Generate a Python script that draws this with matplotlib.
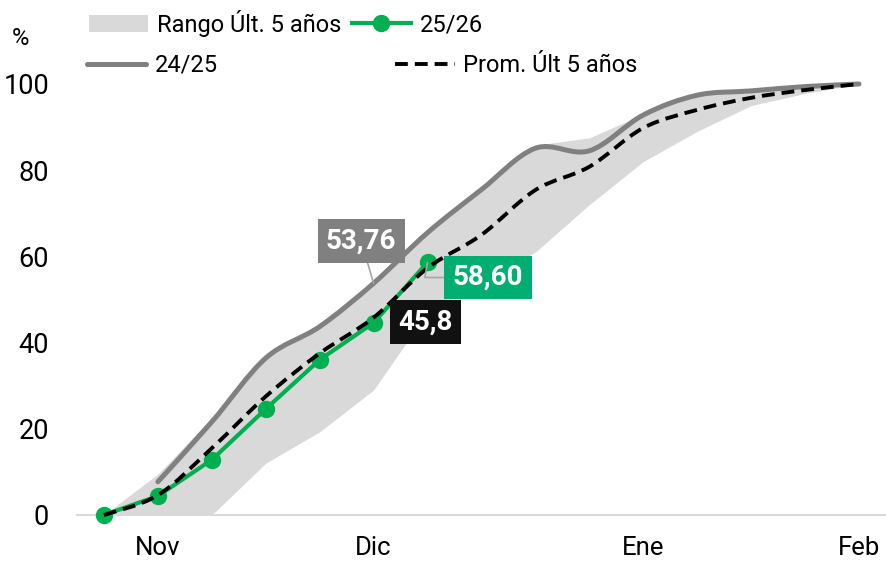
import numpy as np
import matplotlib.pyplot as plt
from matplotlib.path import Path
from matplotlib.patches import PathPatch, Patch
from matplotlib.lines import Line2D

plt.rcParams['font.family'] = ['Roboto', 'DejaVu Sans']

# weekly categories, labels only on some of them
ticks_idx = [1, 5, 10, 14]
ticks_lab = ["Nov", "Dic", "Ene", "Feb"]
weeks = np.arange(15)

rango_low = [0, 0, 0, 12.0, 19.3, 29.0, 47.0, 54.0, 61.0, 72.0, 82.0, 89.0, 95.0, 97.8, 100]
rango_high = [0, 9.5, 22.5, 37.0, 44.5, 54.5, 66.0, 76.0, 85.8, 87.5, 93.0, 97.5, 98.6, 99.5, 100]
s2425 = [np.nan, 7.7, 21.6, 36.4, 43.7, 53.76, 65.5, 75.5, 85.1, 84.5, 92.8, 97.4, 98.4, 99.4, 100]
s2526 = [0, 4.4, 12.8, 24.6, 36.0, 44.6, 58.6]
prom5 = [0, 4.6, 15.5, 27.5, 37.5, 45.8, 57.3, 65.0, 75.4, 80.8, 89.8, 94.0, 96.8, 98.6, 100]

GREEN = "#00B050"
GRAY = "#808080"


def smooth_path(x, y):
    # excel-like smoothed line: bezier segments through the points
    pts = np.column_stack([x, y])
    pts = pts[~np.isnan(pts[:, 1])]
    verts = [pts[0]]
    codes = [Path.MOVETO]
    n = len(pts)
    for i in range(n - 1):
        p0 = pts[max(i - 1, 0)]
        p1 = pts[i]
        p2 = pts[i + 1]
        p3 = pts[min(i + 2, n - 1)]
        c1 = p1 + (p2 - p0) / 6
        c2 = p2 - (p3 - p1) / 6
        verts += [c1, c2, p2]
        codes += [Path.CURVE4] * 3
    return Path(verts, codes)


fig = plt.figure(figsize=(8.86, 5.63), dpi=100)
ax = fig.add_axes([0.0869, 0.0853, 0.913, 0.7655])

ax.fill_between(weeks, rango_low, rango_high, color="#D9D9D9", lw=0, zorder=1)

ax.add_patch(PathPatch(smooth_path(weeks, s2425), fill=False, ec=GRAY, lw=3.6,
                       capstyle='round', zorder=2, clip_on=False))
ax.add_patch(PathPatch(smooth_path(weeks, prom5), fill=False, ec="black", lw=2.8,
                       ls=(0, (3.3, 1.8)), zorder=4, clip_on=False))
ax.plot(weeks[:len(s2526)], s2526, color=GREEN, lw=3, marker='o', ms=11.5, zorder=3,
        clip_on=False)

# data labels
lab_kw = dict(ha='center', va='center', fontsize=20, fontweight='bold', color='white',
              zorder=6)
ax.annotate("53,76", xy=(5, 53.76), xytext=(4.77, 63.6),
            bbox=dict(boxstyle='square,pad=0.3', fc=GRAY, ec='none'),
            arrowprops=dict(arrowstyle='-', color='#A6A6A6', lw=1.2, shrinkA=0, shrinkB=0),
            **lab_kw)
ax.annotate("58,60", xy=(6, 58.6), xytext=(7.12, 55.1),
            bbox=dict(boxstyle='square,pad=0.3', fc="#00AE71", ec='none'),
            arrowprops=dict(arrowstyle='-', color='#A6A6A6', lw=1.2, shrinkA=0, shrinkB=0,
                            connectionstyle='angle,angleA=0,angleB=80,rad=0'),
            **lab_kw)
ax.text(5.96, 44.7, "45,8", bbox=dict(boxstyle='square,pad=0.3', fc="#111111", ec='none'),
        **lab_kw)

ax.set_xlim(-0.5, 14.5)
ax.set_ylim(0, 100)
ax.set_yticks(range(0, 101, 20))
ax.set_xticks(ticks_idx)
ax.set_xticklabels(ticks_lab)
ax.tick_params(axis='both', length=0, labelsize=19.5)
ax.tick_params(axis='x', labelsize=18.5)
ax.tick_params(axis='y', pad=20)
ax.tick_params(axis='x', pad=15)
for s in ['left', 'right', 'top']:
    ax.spines[s].set_visible(False)
ax.spines['bottom'].set_color('#D9D9D9')
ax.spines['bottom'].set_linewidth(1.5)
ax.spines['bottom'].set_zorder(0)

fig.text(0.0226, 0.9325, "%", fontsize=17, ha='center', va='center')

# legend, two rows like excel
h_rango = Patch(fc="#D9D9D9", ec='none')
h_2526 = Line2D([], [], color=GREEN, lw=3, marker='o', ms=11.5)
h_2425 = Line2D([], [], color=GRAY, lw=3.6, solid_capstyle='round')
h_prom = Line2D([], [], color='black', lw=2.8, ls=(0, (3.3, 1.8)))

leg_kw = dict(ncol=2, loc='center left', frameon=False, fontsize=17, handlelength=2.5,
              handletextpad=0.38, borderpad=0, borderaxespad=0)
leg1 = fig.legend([h_rango, h_2526], ["Rango Últ. 5 años", "25/26"],
                  bbox_to_anchor=(0.1005, 0.959), columnspacing=0.45, **leg_kw)
leg2 = fig.legend([h_2425, h_prom], ["24/25", "Prom. Últ 5 años"],
                  bbox_to_anchor=(0.0985, 0.884), columnspacing=7.5, **leg_kw)

fig.savefig("out.png", dpi=100)
